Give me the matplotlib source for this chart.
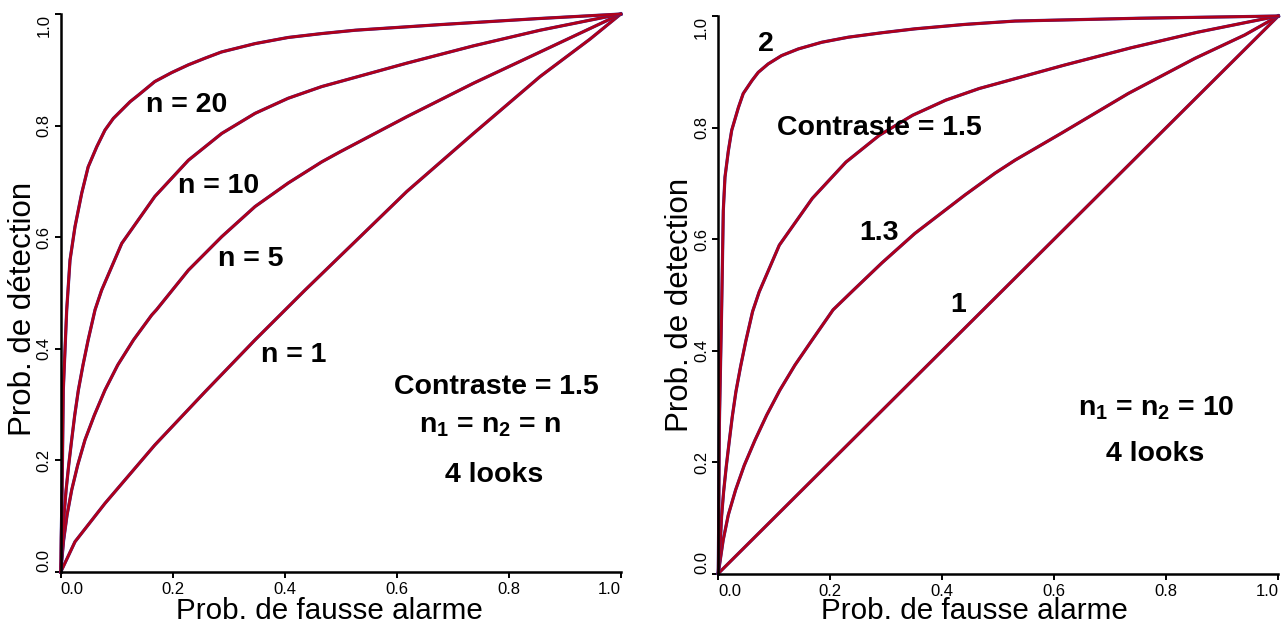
import matplotlib
matplotlib.use("Agg")
import matplotlib.pyplot as plt

plt.rcParams['font.family'] = ['Liberation Sans', 'DejaVu Sans']
plt.rcParams['mathtext.fontset'] = 'custom'
plt.rcParams['mathtext.rm'] = 'Liberation Sans'
plt.rcParams['mathtext.bf'] = 'Liberation Sans:bold'

# ROC curves: (prob. fausse alarme, prob. detection)
# left panel: contraste 1.5, 4 looks, n1 = n2 = n
pfa_n20 = [0, 0.0008, 0.0025, 0.0046, 0.0107, 0.0166, 0.0255, 0.0375, 0.049, 0.0643,
           0.079, 0.094, 0.109, 0.124, 0.139, 0.168, 0.198, 0.228, 0.258, 0.287,
           0.347, 0.406, 0.466, 0.526, 0.677, 0.855, 1.0]
pd_n20 = [0, 0.06, 0.147, 0.326, 0.47, 0.559, 0.619, 0.679, 0.726, 0.762,
          0.792, 0.813, 0.828, 0.843, 0.855, 0.879, 0.895, 0.909, 0.921, 0.932,
          0.947, 0.958, 0.965, 0.971, 0.981, 0.992, 1.0]

pfa_n10 = [0, 0.0037, 0.0059, 0.0096, 0.0143, 0.0196, 0.025, 0.0315, 0.0398, 0.049,
           0.0613, 0.073, 0.109, 0.168, 0.228, 0.2875, 0.347, 0.406, 0.466, 0.4987,
           0.618, 0.737, 0.856, 0.945, 1.0]
pd_n10 = [0, 0.057, 0.102, 0.147, 0.192, 0.237, 0.281, 0.326, 0.371, 0.416,
          0.47, 0.505, 0.589, 0.673, 0.738, 0.786, 0.822, 0.849, 0.870, 0.879,
          0.912, 0.943, 0.971, 0.989, 1.0]

pfa_n5 = [0, 0.0052, 0.0113, 0.0196, 0.0304, 0.0434, 0.060, 0.079, 0.1018, 0.130,
          0.1625, 0.171, 0.228, 0.2875, 0.347, 0.406, 0.466, 0.4987, 0.618, 0.737,
          0.856, 0.945, 1.0]
pd_n5 = [0, 0.057, 0.102, 0.147, 0.192, 0.237, 0.281, 0.326, 0.371, 0.416,
         0.4606, 0.47, 0.541, 0.601, 0.655, 0.697, 0.735, 0.753, 0.816, 0.876,
         0.932, 0.974, 1.0]

pfa_n1 = [0, 0.0255, 0.079, 0.168, 0.2577, 0.347, 0.4005, 0.436, 0.4987, 0.5255,
          0.618, 0.737, 0.856, 0.945, 1.0]
pd_n1 = [0, 0.0543, 0.123, 0.2276, 0.323, 0.416, 0.4695, 0.505, 0.566, 0.592,
         0.682, 0.786, 0.888, 0.955, 1.0]

# right panel: n1 = n2 = 10, 4 looks, contraste varies (1.5 is the n = 10 curve)
pfa_c2 = [0, 0.001, 0.002, 0.006, 0.009, 0.012, 0.018, 0.024, 0.036, 0.0446,
          0.060, 0.0714, 0.089, 0.113, 0.143, 0.185, 0.232, 0.292, 0.351, 0.4405,
          0.53, 0.75, 1.0]
pd_c2 = [0, 0.12, 0.269, 0.472, 0.651, 0.711, 0.758, 0.795, 0.836, 0.861,
         0.884, 0.899, 0.914, 0.929, 0.941, 0.953, 0.962, 0.970, 0.977, 0.985,
         0.991, 0.996, 1.0]

pfa_c13 = [0, 0.0088, 0.0179, 0.031, 0.0464, 0.0655, 0.0864, 0.110, 0.137, 0.167,
           0.205, 0.241, 0.292, 0.351, 0.4405, 0.494, 0.530, 0.613, 0.732, 0.851,
           0.94, 1.0]
pd_c13 = [0, 0.060, 0.105, 0.150, 0.194, 0.239, 0.284, 0.329, 0.374, 0.418,
          0.473, 0.508, 0.557, 0.610, 0.679, 0.718, 0.7415, 0.790, 0.861, 0.924,
          0.966, 1.0]

pfa_c1 = [0, 1.0]
pd_c1 = [0, 1.0]

ticks = [0, 0.2, 0.4, 0.6, 0.8, 1.0]
tick_labels = ['0.0', '0.2', '0.4', '0.6', '0.8', '1.0']

RED = '#B0001A'
BLUE = '#2E2E9E'


def draw_curve(ax, x, y):
    ax.plot(x, y, color=BLUE, lw=2.3, clip_on=False, solid_joinstyle='round')
    ax.plot(x, y, color=RED, lw=2.0, clip_on=False, solid_joinstyle='round')


def style_axes(ax, ylab, ylab_pos, xlab_pos):
    ax.set_xlim(0, 1)
    ax.set_ylim(0, 1)
    for s in ['top', 'right']:
        ax.spines[s].set_visible(False)
    for s in ['left', 'bottom']:
        ax.spines[s].set_linewidth(1.8)
    ax.set_xticks(ticks)
    ax.set_yticks(ticks)
    ax.set_xticklabels(tick_labels, fontsize=12)
    ax.set_yticklabels(tick_labels, fontsize=12, rotation=90)
    ax.tick_params(axis='both', length=4.5, width=1.4, direction='out')
    ax.tick_params(axis='x', pad=3)
    ax.tick_params(axis='y', pad=2)
    xl = ax.get_xticklabels()
    xl[0].set_ha('left')
    xl[-1].set_ha('right')
    yl = ax.get_yticklabels()
    for t in yl:
        t.set_va('center')
    yl[0].set_va('bottom')
    yl[-1].set_va('top')
    ax.text(xlab_pos[0], xlab_pos[1], 'Prob. de fausse alarme', transform=ax.transAxes,
            fontsize=21.3, ha='center', va='baseline')
    ax.text(ylab_pos[0], ylab_pos[1], ylab, transform=ax.transAxes,
            fontsize=22.5, ha='center', va='center', rotation=90)


fig = plt.figure(figsize=(12.81, 6.24), dpi=100)
ax1 = fig.add_axes([0.0474, 0.0833, 0.4372, 0.8942])
ax2 = fig.add_axes([0.5607, 0.0809, 0.4372, 0.8934])

# left panel
for x, y in [(pfa_n1, pd_n1), (pfa_n5, pd_n5), (pfa_n10, pd_n10), (pfa_n20, pd_n20)]:
    draw_curve(ax1, x, y)
style_axes(ax1, 'Prob. de détection', (-0.068, 0.471), (0.479, -0.084))

lab = dict(fontsize=20.5, fontweight='bold', ha='center', va='baseline')
ax1.text(0.224, 0.824, 'n = 20', **lab)
ax1.text(0.281, 0.679, 'n = 10', **lab)
ax1.text(0.3395, 0.548, 'n = 5', **lab)
ax1.text(0.416, 0.377, 'n = 1', **lab)
ax1.text(0.778, 0.319, 'Contraste = 1.5', **lab)
ax1.text(0.766, 0.251, r'n$_{\mathbf{1}}$ = n$_{\mathbf{2}}$ = n', **lab)
ax1.text(0.773, 0.161, '4 looks', **lab)

# right panel
for x, y in [(pfa_c1, pd_c1), (pfa_c13, pd_c13), (pfa_n10, pd_n10), (pfa_c2, pd_c2)]:
    draw_curve(ax2, x, y)
style_axes(ax2, 'Prob. de detection', (-0.069, 0.482), (0.458, -0.082))

ax2.text(0.085, 0.938, '2', **lab)
ax2.text(0.287, 0.7865, 'Contraste = 1.5', **lab)
ax2.text(0.287, 0.598, '1.3', **lab)
ax2.text(0.428, 0.4696, '1', **lab)
ax2.text(0.783, 0.284, r'n$_{\mathbf{1}}$ = n$_{\mathbf{2}}$ = 10', **lab)
ax2.text(0.780, 0.202, '4 looks', **lab)

fig.savefig('out.png', dpi=100)
